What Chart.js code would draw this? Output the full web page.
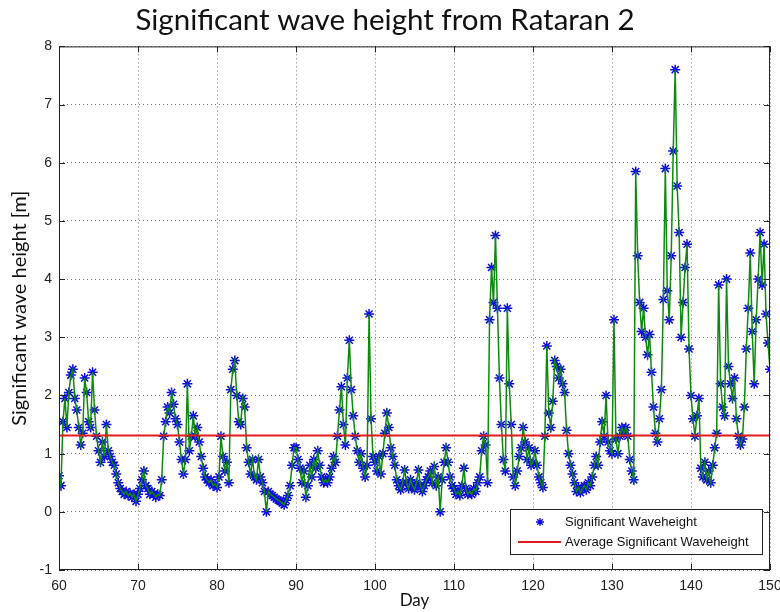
<!DOCTYPE html>
<html>
<head>
<meta charset="utf-8">
<script src="https://cdn.jsdelivr.net/npm/chart.js@4.4.1/dist/chart.umd.min.js"></script>
<style>
  html, body { margin: 0; padding: 0; background: #fff; }
  #wrap { width: 780px; height: 612px; }
</style>
</head>
<body>
<div id="wrap"><canvas id="waveChart"></canvas></div>
<script>
// Hs samples every 6 hours, one array per 10-day block
const startDay = 60;
const stepDays = 0.25;

const hsDay60 = [0.62, 0.45, 1.55, 1.95, 1.45, 2.05, 2.35, 2.45, 1.95, 1.75,
                 1.45, 1.15, 1.35, 2.3, 2.05, 1.55, 1.45, 2.4, 1.75, 1.3,
                 1.05, 0.85, 1.2, 0.95, 1.5, 1.05, 0.95, 0.85, 0.8, 0.65,
                 0.5, 0.4, 0.35, 0.3, 0.35, 0.28, 0.32, 0.25, 0.3, 0.18];
const hsDay70 = [0.3, 0.4, 0.55, 0.7, 0.45, 0.4, 0.3, 0.35, 0.3, 0.25,
                 0.3, 0.28, 0.55, 1.3, 1.55, 1.8, 1.7, 2.05, 1.85, 1.6,
                 1.5, 1.2, 0.9, 0.65, 0.9, 2.2, 1.05, 1.3, 1.65, 1.3,
                 1.45, 1.2, 0.95, 0.75, 0.6, 0.55, 0.5, 0.55, 0.45, 0.48];
const hsDay80 = [0.42, 0.6, 1.3, 0.95, 0.7, 0.85, 0.5, 2.1, 2.45, 2.6,
                 2.0, 1.55, 1.5, 1.95, 1.8, 1.1, 0.85, 0.65, 0.9, 0.6,
                 0.55, 0.9, 0.6, 0.5, 0.35, 0.0, 0.35, 0.3, 0.28, 0.25,
                 0.22, 0.2, 0.18, 0.15, 0.12, 0.2, 0.28, 0.45, 0.8, 1.1];
const hsDay90 = [1.1, 0.9, 0.75, 0.5, 0.7, 0.25, 0.45, 0.8, 0.6, 0.9,
                 0.75, 1.05, 0.8, 0.6, 0.5, 0.55, 0.5, 0.6, 0.75, 0.95,
                 0.85, 1.3, 1.75, 2.15, 1.5, 1.15, 2.3, 2.95, 2.1, 1.65,
                 1.3, 1.05, 0.85, 1.0, 0.75, 0.6, 0.8, 3.4, 1.6, 0.95];
const hsDay100 = [0.85, 0.7, 0.95, 0.65, 1.0, 1.35, 1.7, 1.45, 1.1, 0.95,
                  0.8, 0.55, 0.45, 0.38, 0.5, 0.72, 0.5, 0.4, 0.55, 0.45,
                  0.38, 0.5, 0.72, 0.45, 0.35, 0.45, 0.55, 0.6, 0.7, 0.5,
                  0.78, 0.45, 0.6, 0.0, 0.55, 0.85, 1.1, 0.85, 0.6, 0.45];
const hsDay110 = [0.4, 0.3, 0.35, 0.28, 0.45, 0.75, 0.4, 0.3, 0.35, 0.3,
                  0.4, 0.35, 0.5, 0.6, 1.05, 1.3, 1.15, 0.5, 3.3, 4.2,
                  3.6, 4.75, 3.5, 2.3, 1.5, 0.9, 0.7, 3.5, 2.2, 1.5,
                  0.6, 0.45, 0.7, 0.95, 1.1, 1.45, 1.2, 0.9, 1.1, 0.8];
const hsDay120 = [0.85, 1.05, 0.8, 0.6, 0.5, 0.42, 1.3, 2.85, 1.7, 1.45,
                  1.9, 2.6, 2.5, 2.3, 2.45, 2.2, 2.05, 1.4, 1.0, 0.8,
                  0.65, 0.5, 0.35, 0.42, 0.33, 0.4, 0.45, 0.38, 0.5, 0.45,
                  0.6, 0.8, 0.95, 0.8, 1.2, 1.55, 1.3, 2.0, 1.2, 1.05];
const hsDay130 = [1.0, 3.3, 1.25, 1.0, 1.3, 1.45, 1.35, 1.45, 1.3, 0.9,
                  0.7, 0.55, 5.85, 4.4, 3.6, 3.1, 3.5, 3.0, 2.7, 3.05,
                  2.4, 1.8, 1.35, 1.2, 1.6, 2.1, 3.65, 5.9, 3.8, 3.3,
                  4.4, 6.2, 7.6, 5.6, 4.8, 3.0, 3.6, 4.2, 4.6, 2.8];
const hsDay140 = [2.0, 1.6, 1.3, 1.65, 1.95, 0.75, 0.6, 0.85, 0.55, 0.7,
                  0.5, 0.8, 1.1, 1.35, 3.9, 2.2, 1.8, 1.65, 4.0, 2.5,
                  2.2, 1.95, 2.3, 1.6, 1.3, 1.15, 1.25, 1.8, 2.8, 3.5,
                  4.45, 3.1, 2.2, 3.3, 4.0, 4.8, 3.9, 4.6, 3.4, 2.9, 2.45];

const avgHeight = 1.31;
const dayTicks = [60, 70, 80, 90, 100, 110, 120, 130, 140, 150];
const heightTicks = [-1, 0, 1, 2, 3, 4, 5, 6, 7, 8];

const MARK_BLUE = '#0a0ae6';
const LINE_GREEN = '#0b8a0b';
const AVG_RED = '#e01b1b';
const TEXT_FONT = "'Liberation Sans', Arial, sans-serif";
const TITLE_FONT = "Lato, 'Open Sans', sans-serif";

const hsValues = [].concat(hsDay60, hsDay70, hsDay80, hsDay90, hsDay100,
                           hsDay110, hsDay120, hsDay130, hsDay140);
const hsPoints = hsValues.map((v, i) => ({ x: startDay + i * stepDays, y: v }));
const avgPoints = [{ x: dayTicks[0], y: avgHeight }, { x: dayTicks[dayTicks.length - 1], y: avgHeight }];

// matlab-ish axes box with inward ticks on all four sides
const axesBox = {
  id: 'axesBox',
  afterDatasetsDraw(chart) {
    const { ctx, chartArea: a, scales } = chart;
    ctx.save();
    ctx.strokeStyle = '#222';
    ctx.lineWidth = 1;
    ctx.strokeRect(a.left + 0.5, a.top + 0.5, a.right - a.left - 1, a.bottom - a.top - 1);
    ctx.beginPath();
    dayTicks.forEach(d => {
      const x = Math.round(scales.x.getPixelForValue(d)) + 0.5;
      ctx.moveTo(x, a.bottom); ctx.lineTo(x, a.bottom - 6);
      ctx.moveTo(x, a.top); ctx.lineTo(x, a.top + 6);
    });
    heightTicks.forEach(h => {
      const y = Math.round(scales.y.getPixelForValue(h)) + 0.5;
      ctx.moveTo(a.left, y); ctx.lineTo(a.left + 6, y);
      ctx.moveTo(a.right, y); ctx.lineTo(a.right - 6, y);
    });
    ctx.stroke();
    ctx.restore();
  }
};

// legend box in the lower right corner of the plot
const cornerLegend = {
  id: 'cornerLegend',
  afterDraw(chart) {
    const { ctx, chartArea: a } = chart;
    const left = a.right - 260, top = a.bottom - 61, w = 252, h = 45;
    ctx.save();
    ctx.fillStyle = '#fff';
    ctx.fillRect(left, top, w, h);
    ctx.strokeStyle = '#222';
    ctx.lineWidth = 1;
    ctx.strokeRect(left + 0.5, top + 0.5, w, h);

    const row1 = top + 13, row2 = top + 33;
    const mx = left + 30, r = 4;
    ctx.strokeStyle = MARK_BLUE;
    ctx.lineWidth = 1.3;
    ctx.beginPath();
    ctx.moveTo(mx - r, row1); ctx.lineTo(mx + r, row1);
    ctx.moveTo(mx, row1 - r); ctx.lineTo(mx, row1 + r);
    ctx.moveTo(mx - r * 0.7, row1 - r * 0.7); ctx.lineTo(mx + r * 0.7, row1 + r * 0.7);
    ctx.moveTo(mx - r * 0.7, row1 + r * 0.7); ctx.lineTo(mx + r * 0.7, row1 - r * 0.7);
    ctx.stroke();

    ctx.strokeStyle = AVG_RED;
    ctx.lineWidth = 2;
    ctx.beginPath();
    ctx.moveTo(left + 8, row2); ctx.lineTo(left + 51, row2);
    ctx.stroke();

    ctx.fillStyle = '#111';
    ctx.font = '13px ' + TEXT_FONT;
    ctx.textBaseline = 'middle';
    ctx.fillText('Significant Waveheight', left + 55, row1);
    ctx.fillText('Average Significant Waveheight', left + 55, row2);
    ctx.restore();
  }
};

new Chart(document.getElementById('waveChart'), {
  type: 'scatter',
  data: {
    datasets: [
      {
        label: 'Average Significant Waveheight',
        data: avgPoints,
        showLine: true,
        borderColor: AVG_RED,
        borderWidth: 2,
        pointRadius: 0,
        order: 0
      },
      {
        label: 'hs line',
        data: hsPoints,
        showLine: true,
        borderColor: LINE_GREEN,
        borderWidth: 1.5,
        pointRadius: 0,
        order: 1
      },
      {
        label: 'Significant Waveheight',
        data: hsPoints,
        pointStyle: 'star',
        pointRadius: 5,
        borderColor: MARK_BLUE,
        backgroundColor: MARK_BLUE,
        borderWidth: 1.5,
        order: 2
      }
    ]
  },
  options: {
    responsive: true,
    maintainAspectRatio: false,
    animation: false,
    layout: { padding: { left: 0, right: 10, top: 0, bottom: 0 } },
    plugins: {
      legend: { display: false },
      tooltip: { enabled: false },
      title: {
        display: true,
        text: 'Significant wave height from Rataran 2',
        color: '#111',
        font: { family: TITLE_FONT, size: 29.5, weight: 'normal' },
        padding: { top: 3, bottom: 8 }
      }
    },
    scales: {
      x: {
        type: 'linear',
        min: 60, max: 150,
        afterFit(scale) { scale.height = 42; scale.paddingLeft = 0; scale.paddingRight = 0; },
        afterBuildTicks(scale) { scale.ticks = dayTicks.map(v => ({ value: v })); },
        grid: { color: 'rgba(0,0,0,0.55)', drawTicks: false },
        border: { display: false, dash: [1, 3] },
        ticks: { color: '#222', padding: 8, font: { family: TEXT_FONT, size: 14 } },
        title: {
          display: true, text: 'Day', color: '#111',
          font: { family: TITLE_FONT, size: 17 }, padding: { top: 0, bottom: 1 }
        }
      },
      y: {
        type: 'linear',
        min: -1, max: 8,
        afterFit(scale) { scale.width = 59; },
        afterBuildTicks(scale) { scale.ticks = heightTicks.map(v => ({ value: v })); },
        grid: { color: 'rgba(0,0,0,0.55)', drawTicks: false },
        border: { display: false, dash: [1, 3] },
        ticks: { color: '#222', padding: 7, font: { family: TEXT_FONT, size: 14 } },
        title: {
          display: true, text: 'Significant wave height [m]', color: '#111',
          font: { family: TITLE_FONT, size: 20 }, padding: { top: 8, bottom: 0 }
        }
      }
    }
  },
  plugins: [axesBox, cornerLegend]
});
</script>
</body>
</html>
